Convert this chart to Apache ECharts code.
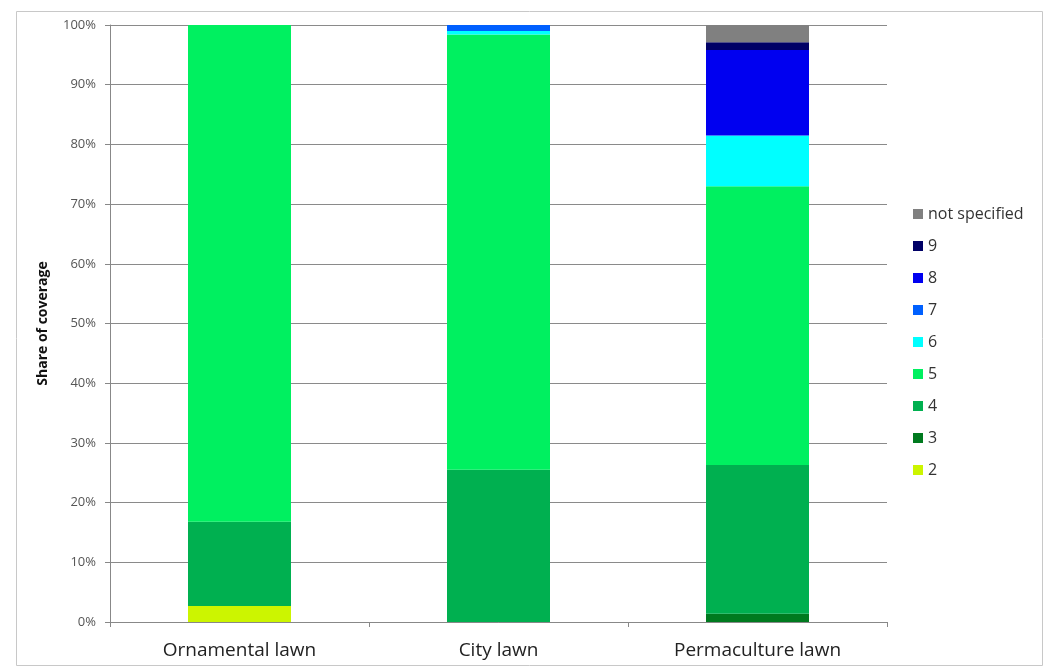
<!DOCTYPE html>
<html>
<head>
<meta charset="utf-8">
<script src="https://cdn.jsdelivr.net/npm/echarts@6/dist/echarts.min.js"></script>
<style>html,body{margin:0;padding:0;background:#fff}#c{width:1045px;height:668px}</style>
</head>
<body>
<div id="c"></div>
<script>
var categories = ['Ornamental lawn', 'City lawn', 'Permaculture lawn'];
var yTicks = [0, 10, 20, 30, 40, 50, 60, 70, 80, 90, 100];
var s2 = [2.7, 0, 0];
var s3 = [0, 0, 1.4];
var s4 = [14.1, 25.5, 24.9];
var s5 = [83.2, 72.9, 46.7];
var s6 = [0, 0.6, 8.5];
var s7 = [0, 1.0, 0];
var s8 = [0, 0, 14.3];
var s9 = [0, 0, 1.3];
var sNS = [0, 0, 2.9];

var seriesDefs = [
  {name: '2', data: s2, color: '#ccf500'},
  {name: '3', data: s3, color: '#007a1f'},
  {name: '4', data: s4, color: '#00b050'},
  {name: '5', data: s5, color: '#00f060'},
  {name: '6', data: s6, color: '#00ffff'},
  {name: '7', data: s7, color: '#0060ff'},
  {name: '8', data: s8, color: '#0000f0'},
  {name: '9', data: s9, color: '#000066'},
  {name: 'not specified', data: sNS, color: '#808080'}
];

var chart = echarts.init(document.getElementById('c'), null, {renderer: 'canvas'});
chart.setOption({
  animation: false,
  backgroundColor: '#fff',
  graphic: [{
    type: 'rect', left: 14, top: 9, z: -1,
    shape: {width: 1026, height: 654},
    style: {fill: 'none', stroke: '#c8c8c8', lineWidth: 1}
  }],
  grid: {left: 110, right: 158, top: 25, bottom: 46},
  legend: {
    orient: 'vertical', left: 908, top: 201,
    itemWidth: 10, itemHeight: 10, itemGap: 16, icon: 'rect',
    data: ['not specified', '9', '8', '7', '6', '5', '4', '3', '2'],
    textStyle: {fontFamily: 'Open Sans', fontSize: 16, lineHeight: 16, color: '#333'}
  },
  xAxis: {
    type: 'category', data: categories,
    axisLine: {lineStyle: {color: '#888'}},
    axisTick: {show: true, length: 5, lineStyle: {color: '#888'}},
    axisLabel: {fontFamily: 'Open Sans', fontSize: 19, color: '#222', margin: 19}
  },
  yAxis: {
    type: 'value', min: 0, max: 100, interval: 10,
    name: 'Share of coverage', nameLocation: 'middle', nameGap: 60, nameRotate: 90,
    nameTextStyle: {fontFamily: 'Open Sans', fontSize: 14, fontWeight: 'bold', color: '#111'},
    axisLine: {show: true, lineStyle: {color: '#888'}},
    axisTick: {show: true, length: 5, lineStyle: {color: '#888'}},
    axisLabel: {formatter: '{value}%', fontFamily: 'Open Sans', fontSize: 13, color: '#555', margin: 14},
    splitLine: {lineStyle: {color: '#8a8a8a', width: 1}}
  },
  series: seriesDefs.map(function (d) {
    return {
      name: d.name, type: 'bar', stack: 'total', data: d.data,
      barWidth: 103, itemStyle: {color: d.color}
    };
  })
});
</script>
</body>
</html>
